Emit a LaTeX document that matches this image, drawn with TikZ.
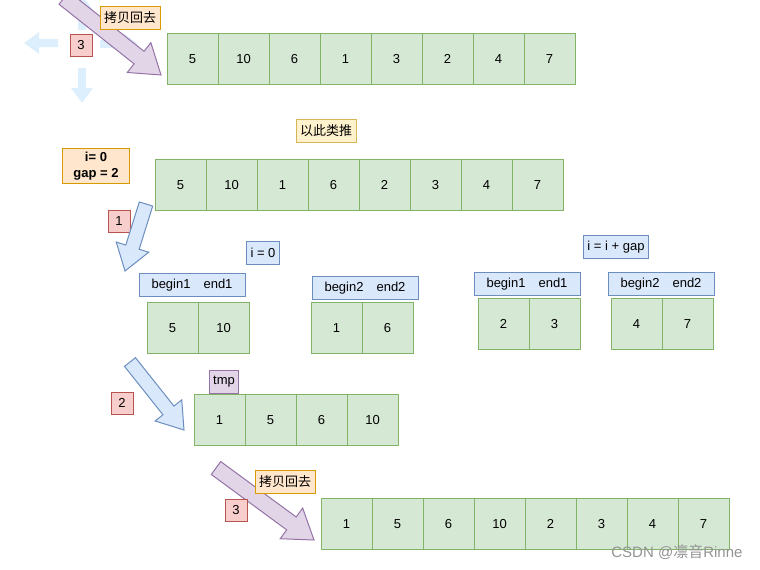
\documentclass[tikz,border=0pt]{standalone}
\usepackage{fontspec}
\setmainfont{Liberation Sans}
\newfontfamily\cjk{Noto Sans CJK SC}
\usetikzlibrary{calc}
\definecolor{gF}{HTML}{D5E8D4}\definecolor{gD}{HTML}{82B366}
\definecolor{rF}{HTML}{F8CECC}\definecolor{rD}{HTML}{B85450}
\definecolor{bF}{HTML}{DAE8FC}\definecolor{bD}{HTML}{6C8EBF}
\definecolor{pF}{HTML}{E1D5E7}\definecolor{pD}{HTML}{9673A6}
\definecolor{oF}{HTML}{FFE6CC}\definecolor{oD}{HTML}{D79B00}
\definecolor{yF}{HTML}{FFF2CC}\definecolor{yD}{HTML}{D6B656}
\definecolor{faint}{HTML}{DDEFFC}
\newcommand\fatarr[6]{%
 \coordinate (fH) at ($(#2)!#6!(#1)$);
 \draw[#3] ($(#1)!#4!-90:(#2)$) -- ($(fH)!#4!90:(#1)$) -- ($(fH)!#5!90:(#1)$) -- (#2) -- ($(fH)!#5!-90:(#1)$) -- ($(fH)!#4!-90:(#1)$) -- ($(#1)!#4!90:(#2)$) -- cycle;}
\tikzset{
 cell/.style={draw=gD,fill=gF,line width=1pt,minimum width=51pt,minimum height=51pt,inner sep=0pt,text height=9.5pt,text depth=0pt,font=\fontsize{13}{15}\selectfont},
 lab/.style={draw,line width=1pt,inner sep=4pt,minimum height=23pt,font=\fontsize{13}{15}\selectfont},
 redb/.style={lab,draw=rD,fill=rF,minimum width=22pt,minimum height=22pt,inner sep=0pt},
 blueb/.style={lab,draw=bD,fill=bF},
 bew/.style={blueb,minimum width=106pt},
 purpb/.style={lab,draw=pD,fill=pF},
 orb/.style={lab,draw=oD,fill=oF},
 yelb/.style={lab,draw=yD,fill=yF},
 barrow/.style={draw=bD,fill=bF,line width=1pt},
 parrow/.style={draw=pD,fill=pF,line width=1pt},
 farrow/.style={fill=faint,draw=none},
}
\newcommand\cellrow[4]{% name, x0, y0, values
 \foreach \v [count=\i from 0] in {#4}{\node[cell] (#1\i) at (#2+25.5+51*\i,#3+25.5) {\v};}}
\begin{document}
\begin{tikzpicture}[x=1pt,y=-1pt]
\useasboundingbox (0,0) rectangle (760,570);
% faint arrows
\coordinate (fa0) at (58,43);\coordinate (fa1) at (24,43);
\fatarr{fa0}{fa1}{farrow}{4pt}{11pt}{15pt}
\coordinate (fb0) at (82,68);\coordinate (fb1) at (82,103);
\fatarr{fb0}{fb1}{farrow}{4pt}{11pt}{15pt}
\coordinate (fc0) at (100,44);\coordinate (fc1) at (138,44);
\fatarr{fc0}{fc1}{farrow}{4pt}{11pt}{15pt}
\coordinate (fd0) at (82,30);\coordinate (fd1) at (82,-5);
\fatarr{fd0}{fd1}{farrow}{4pt}{11pt}{15pt}
% row 1
\cellrow{ra}{167}{33}{5,10,6,1,3,2,4,7}
\node[redb] (n3a) at (81,45) {3};
\coordinate (pa0) at (64,-2);\coordinate (pa1) at (161,75);
\fatarr{pa0}{pa1}{parrow}{8pt}{19pt}{28pt}
\node[orb] (cp1) at (130,18) {\cjk 拷贝回去};
% row 2
\node[yelb] (ycl) at (326,131) {\cjk 以此类推};
\node[orb,align=center,font=\fontsize{13}{16}\selectfont\bfseries,inner sep=3pt,minimum width=67pt] (ig) at (96,166) {i= 0\\gap = 2};
\cellrow{rb}{155}{159}{5,10,1,6,2,3,4,7}
\node[redb] (n1) at (119,221) {1};
\coordinate (ba0) at (146,204);\coordinate (ba1) at (125,271);
\fatarr{ba0}{ba1}{barrow}{7pt}{17pt}{25pt}
% groups
\node[blueb] (i0) at (263,253) {i = 0};
\node[bew] (be1) at (192,285) {begin1\quad end1};
\cellrow{g1}{147}{302}{5,10}
\node[bew] (be2) at (365,288) {begin2\quad end2};
\cellrow{g2}{311}{302}{1,6}
\node[blueb] (igap) at (616,247) {i = i + gap};
\node[bew] (be3) at (527,284) {begin1\quad end1};
\cellrow{g3}{478}{298}{2,3}
\node[bew] (be4) at (661,284) {begin2\quad end2};
\cellrow{g4}{611}{298}{4,7}
% tmp
\node[redb] (n2) at (122,403) {2};
\coordinate (bb0) at (130,362);\coordinate (bb1) at (184,430);
\fatarr{bb0}{bb1}{barrow}{7pt}{17pt}{25pt}
\node[purpb] (tmp) at (224,382) {tmp};
\cellrow{rc}{194}{394}{1,5,6,10}
% last
\coordinate (pb0) at (216,468);\coordinate (pb1) at (314,540);
\fatarr{pb0}{pb1}{parrow}{8pt}{19pt}{28pt}
\node[orb] (cp2) at (285,482) {\cjk 拷贝回去};
\node[redb] (n3b) at (236,510) {3};
\cellrow{rd}{321}{498}{1,5,6,10,2,3,4,7}
\node[text=gray!85,font=\fontsize{15}{17}\selectfont,anchor=east] (wm) at (746,552) {CSDN @{\cjk 凛音}Rinne};
\end{tikzpicture}
\end{document}
